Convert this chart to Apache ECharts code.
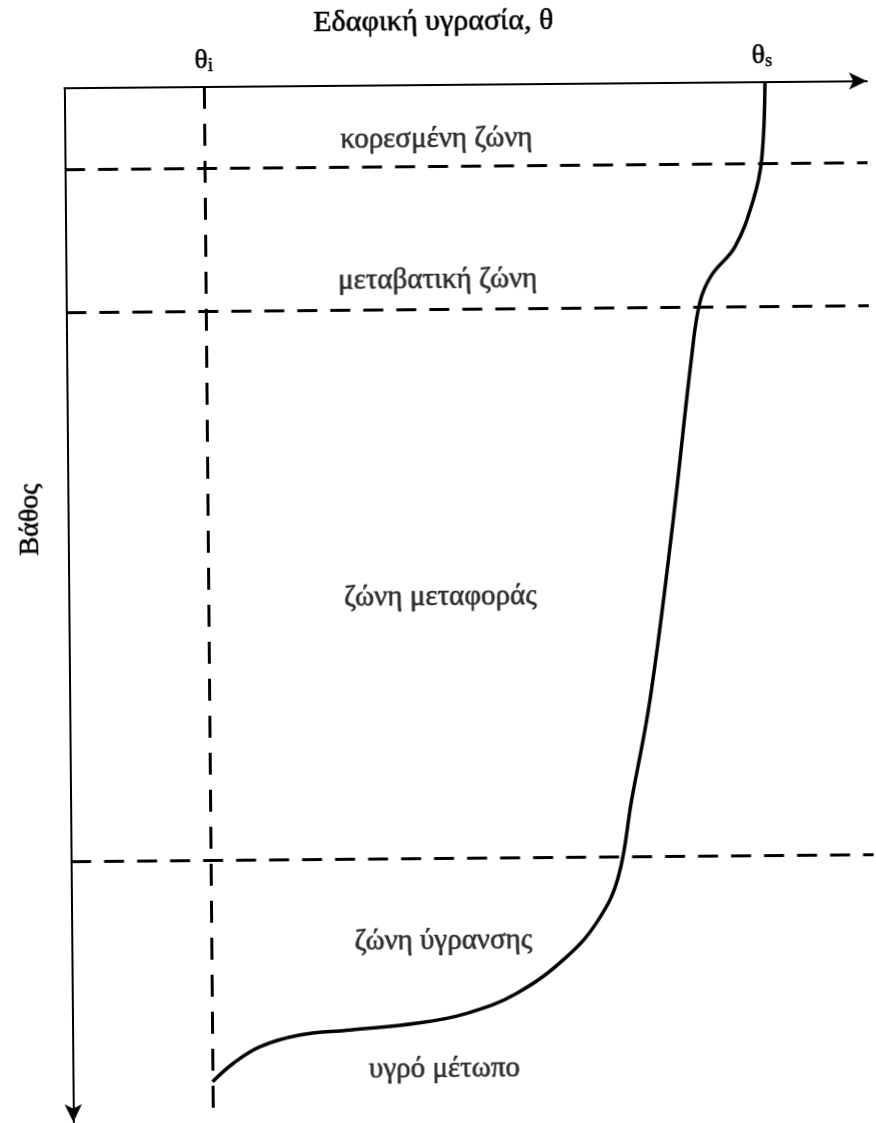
<!DOCTYPE html>
<html>
<head>
<meta charset="utf-8">
<script src="https://cdn.jsdelivr.net/npm/echarts@6/dist/echarts.min.js"></script>
<style>
  html, body { margin: 0; padding: 0; background: #fff; }
  #chart { width: 876px; height: 1123px; transform: rotate(-0.5deg); }
</style>
</head>
<body>
<div id="chart"></div>
<script>
// Soil moisture profile during infiltration: moisture content θ (%) against depth.
const thetaMarks = [8, 40];            // θi (initial) and θs (saturated)
const thetaMarkSubs = ['i', 's'];

const profileTheta = [40.16, 39.93, 39.43, 38.36, 37.01, 36.33, 35.82, 34.61, 33.26, 32.16, 31.36, 30.19, 28.36, 25.48, 22.60, 19.73, 15.90, 13.03, 10.74, 9.20, 8.0];
const profileDepth = [0, 9.44, 14.27, 19.89, 23.29, 26.50, 33.14, 54.06, 74.58, 86.65, 95.91, 101.12, 105.52, 109.89, 112.26, 113.41, 114.15, 114.70, 116.07, 118.05, 120.26];

const zoneBoundaries = [9.8, 27.1, 93.5];
const zoneNames = ['κορεσμένη ζώνη', 'μεταβατική ζώνη', 'ζώνη μεταφοράς', 'ζώνη ύγρανσης', 'υγρό μέτωπο'];
const zoneLabelDepths = [6.6, 23.6, 62.0, 103.5, 119.0];
const zoneLabelTheta = 21.3;

const FONT = '"Liberation Serif", "Times New Roman", serif';
// slightly heavier strokes for all text
const INK = { color: '#000', textBorderColor: '#000', textBorderWidth: 0.6 };

const chart = echarts.init(document.getElementById('chart'), null, { renderer: 'canvas' });

chart.setOption({
  animation: false,
  backgroundColor: '#fff',
  title: {
    text: 'Εδαφική υγρασία, θ',
    left: 'center',
    top: 2,
    textStyle: Object.assign({ fontFamily: FONT, fontSize: 30, fontWeight: 'normal' }, INK)
  },
  grid: { left: 68.5, top: 84.7, right: 5, bottom: 4, containLabel: false },
  xAxis: {
    type: 'value',
    position: 'top',
    min: 0,
    max: 46,
    splitLine: { show: false },
    axisTick: { show: false },
    axisLine: {
      show: true,
      lineStyle: { color: '#000', width: 2 },
      symbol: ['none', 'arrow'],
      symbolSize: [13, 18]
    },
    axisLabel: Object.assign({
      customValues: thetaMarks,
      margin: 11,
      fontFamily: FONT,
      fontSize: 28,
      formatter: v => 'θ{sub|' + thetaMarkSubs[thetaMarks.indexOf(v)] + '}',
      rich: {
        sub: Object.assign({ fontFamily: FONT, fontSize: 18, verticalAlign: 'bottom', padding: [12, 0, 0, 0] }, INK)
      }
    }, INK)
  },
  yAxis: {
    type: 'value',
    inverse: true,
    min: 0,
    max: 125,
    splitLine: { show: false },
    axisTick: { show: false },
    axisLabel: { show: false },
    axisLine: {
      show: true,
      onZero: false,
      lineStyle: { color: '#000', width: 2 },
      symbol: ['arrow', 'none'],
      symbolSize: [13, 18]
    }
  },
  graphic: [{
    type: 'text',
    x: 31,
    y: 516,
    rotation: Math.PI / 2,
    style: {
      text: 'Βάθος',
      fontFamily: FONT,
      fontSize: 28,
      fill: '#000',
      stroke: '#000',
      lineWidth: 0.6,
      align: 'center',
      verticalAlign: 'middle'
    }
  }],
  series: [
    {
      type: 'line',
      data: profileTheta.map((t, i) => [t, profileDepth[i]]),
      smooth: 0.4,
      showSymbol: false,
      symbol: 'none',
      lineStyle: { color: '#000', width: 3.5 },
      silent: true,
      markLine: {
        silent: true,
        symbol: 'none',
        label: { show: false },
        lineStyle: { color: '#000', width: 3, type: [20, 13] },
        data: zoneBoundaries.map(d => ({ yAxis: d }))
          .concat([{ xAxis: thetaMarks[0], lineStyle: { color: '#000', width: 3, type: [22, 15] } }])
      }
    },
    {
      type: 'scatter',
      symbolSize: 0,
      silent: true,
      data: zoneNames.map((n, i) => ({ name: n, value: [zoneLabelTheta, zoneLabelDepths[i]] })),
      label: Object.assign({
        show: true,
        position: 'inside',
        formatter: p => p.name,
        fontFamily: FONT,
        fontSize: 29
      }, INK)
    }
  ]
});
</script>
</body>
</html>
